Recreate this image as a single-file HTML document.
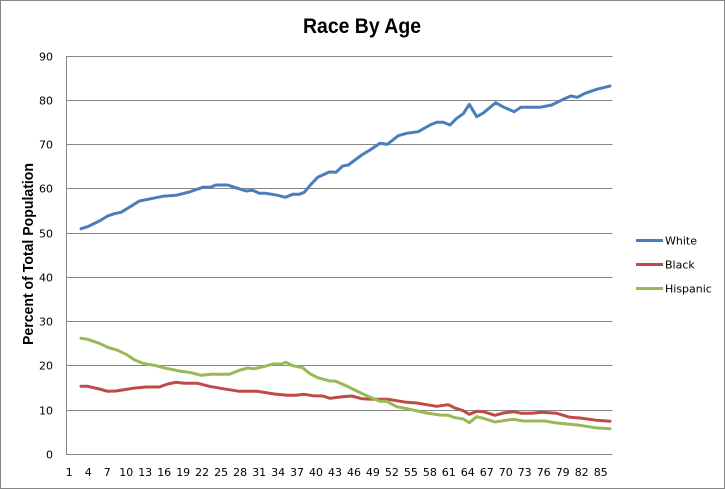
<!DOCTYPE html>
<html><head><meta charset="utf-8"><style>
html,body{margin:0;padding:0;background:#fff;}
svg{display:block;}
</style></head><body>
<svg width="725" height="489" viewBox="0 0 725 489" xmlns="http://www.w3.org/2000/svg">
<rect x="0.5" y="0.5" width="724" height="488" fill="#fff" stroke="#868686" stroke-width="1"/>
<text x="362" y="33" text-anchor="middle" font-family="Liberation Sans, sans-serif" font-weight="bold" font-size="21" textLength="118" lengthAdjust="spacingAndGlyphs" fill="#000">Race By Age</text>
<g stroke="#868686" stroke-width="1">
<line x1="66.5" y1="56.5" x2="612.5" y2="56.5"/>
<line x1="66.5" y1="100.5" x2="612.5" y2="100.5"/>
<line x1="66.5" y1="144.5" x2="612.5" y2="144.5"/>
<line x1="66.5" y1="188.5" x2="612.5" y2="188.5"/>
<line x1="66.5" y1="233.5" x2="612.5" y2="233.5"/>
<line x1="66.5" y1="277.5" x2="612.5" y2="277.5"/>
<line x1="66.5" y1="321.5" x2="612.5" y2="321.5"/>
<line x1="66.5" y1="365.5" x2="612.5" y2="365.5"/>
<line x1="66.5" y1="410.5" x2="612.5" y2="410.5"/>
<line x1="66.5" y1="454.5" x2="612.5" y2="454.5"/>
<line x1="66.5" y1="56" x2="66.5" y2="455"/>
</g>
<g font-family="DejaVu Sans, sans-serif" font-size="11" fill="#000" text-anchor="end">
<text x="53" y="60.5">90</text>
<text x="53" y="104.5">80</text>
<text x="53" y="148.5">70</text>
<text x="53" y="192.5">60</text>
<text x="53" y="237.5">50</text>
<text x="53" y="281.5">40</text>
<text x="53" y="325.5">30</text>
<text x="53" y="369.5">20</text>
<text x="53" y="414.5">10</text>
<text x="53" y="458.5">0</text>
</g>
<g font-family="DejaVu Sans, sans-serif" font-size="11" fill="#000" text-anchor="middle">
<text x="69.3" y="476">1</text>
<text x="88.3" y="476">4</text>
<text x="107.3" y="476">7</text>
<text x="126.3" y="476">10</text>
<text x="145.2" y="476">13</text>
<text x="164.2" y="476">16</text>
<text x="183.2" y="476">19</text>
<text x="202.1" y="476">22</text>
<text x="221.1" y="476">25</text>
<text x="240.1" y="476">28</text>
<text x="259.1" y="476">31</text>
<text x="278.1" y="476">34</text>
<text x="297.0" y="476">37</text>
<text x="316.0" y="476">40</text>
<text x="335.0" y="476">43</text>
<text x="354.0" y="476">46</text>
<text x="372.9" y="476">49</text>
<text x="391.9" y="476">52</text>
<text x="410.9" y="476">55</text>
<text x="429.9" y="476">58</text>
<text x="448.8" y="476">61</text>
<text x="467.8" y="476">64</text>
<text x="486.8" y="476">67</text>
<text x="505.8" y="476">70</text>
<text x="524.7" y="476">73</text>
<text x="543.7" y="476">76</text>
<text x="562.7" y="476">79</text>
<text x="581.7" y="476">82</text>
<text x="600.7" y="476">85</text>
</g>
<text transform="translate(33,254) rotate(-90)" text-anchor="middle" font-family="Liberation Sans, sans-serif" font-weight="bold" font-size="14.5" textLength="182" lengthAdjust="spacingAndGlyphs" fill="#000">Percent of Total Population</text>
<g fill="none" stroke-width="3" stroke-linejoin="round" stroke-linecap="round">
<polyline stroke="#4A7EBB" points="81,228.7 87.7,226.7 99.3,221 107.7,216 114.3,213.7 121,212.3 129.3,207.3 139.3,201 151,198.7 162.7,196.3 176,195.3 189.3,192 202.7,187.3 211,187 216,185 227.7,185 237.7,188.3 246,191 252.7,190.3 259.3,193.3 266,193.3 277.7,195.3 285.3,197.3 292.7,194.3 299.3,194.3 304.3,192.3 311,184.3 317.7,177.3 329.3,172 336,172.3 342.7,166 348.3,165 355,160 361.7,155 370,150 380,143.3 387.3,144.3 398.3,135.7 406.7,133.3 418.3,131.7 430,125 436.7,122.3 443.3,122.3 450,125 456.7,118.3 463.3,113.7 469.3,104.3 476.7,116.7 483.3,113 495.7,102.7 503.3,107 514.3,111.7 520.7,107.3 540,107.3 551.7,105 563.3,99.3 570.7,96 577.3,97.3 585,93.3 596.7,89.3 610,86"/>
<polyline stroke="#BE4B48" points="81,386.3 87.7,386.3 99.3,389 107.7,391.3 116,391 132.7,388.3 146,387 159.3,387 167.7,384 176,382.3 184.3,383.3 197.7,383.3 209.3,386.3 222.7,388.7 239.3,391.3 257.7,391.3 274.3,394 287.7,395.3 296,395.3 304.3,394.3 312.7,395.7 322.7,396 330,398.3 340,397 351.7,396 361.7,398.7 373.3,399.3 388.3,399.3 396.7,400.7 406.7,402.3 416.7,403 426.7,404.7 436.7,406.3 448.3,404.7 455,408 463.3,410.7 469.3,414.3 476.7,411.3 483.3,411.7 495,415.3 503.3,413 513.3,411.7 521.7,413.3 531.7,413.3 541.7,412.3 556.7,413.3 570,417.3 580,418 596.7,420.3 610,421.3"/>
<polyline stroke="#98B954" points="81,338.3 87.7,339.3 99.3,343.3 107.7,347.3 117.7,350.3 126,354.3 134.3,359.7 142.7,363.3 156,365.7 166,368.3 179.3,371 191,372.7 201,375.3 211,374.3 229.3,374.3 239.3,370.3 247.7,368 254.3,368.7 266,366 272.7,364 281,364 286,362.3 292.7,365.7 302.7,367.7 309.3,373.3 317.7,377.7 330,381 335,381 346.7,386 356.7,391 366.7,395.7 380,401.3 386.7,401.3 396.7,406.7 410,409.3 426.7,413 440,415 448.3,415.3 455,417.7 463.3,419 469.3,422.7 476.7,416.7 483.3,418.3 495,422 503.3,420.7 513.3,419.3 523.3,421 545,421 556.7,423 570,424.3 580,425.3 595,427.7 610,428.7"/>
</g>
<g stroke-width="3">
<line x1="636" y1="240.5" x2="663" y2="240.5" stroke="#4A7EBB"/>
<line x1="636" y1="264.5" x2="663" y2="264.5" stroke="#BE4B48"/>
<line x1="636" y1="288.5" x2="663" y2="288.5" stroke="#98B954"/>
</g>
<g font-family="DejaVu Sans, sans-serif" font-size="11" fill="#000">
<text x="665" y="244.5">White</text>
<text x="665" y="268.5">Black</text>
<text x="665" y="292.5">Hispanic</text>
</g>
</svg>
</body></html>
